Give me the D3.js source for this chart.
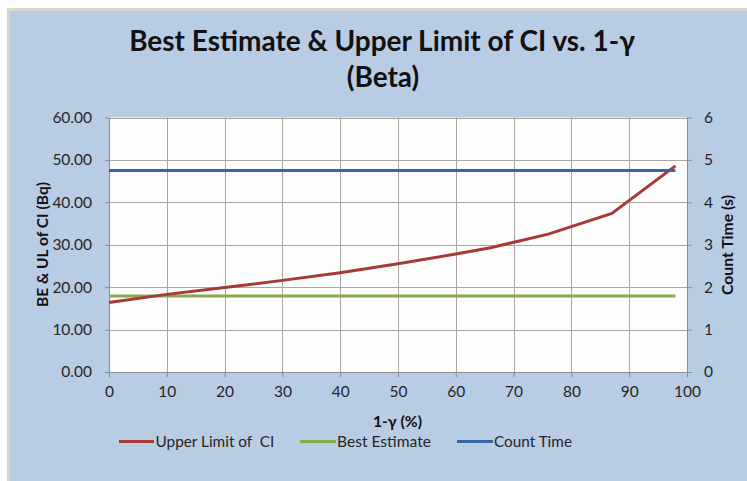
<!DOCTYPE html>
<html><head><meta charset="utf-8">
<script src="https://cdn.jsdelivr.net/npm/d3@7"></script>
<style>body{margin:0;background:#fff}svg{display:block}text{white-space:pre}</style>
</head><body>
<svg id="c" width="747" height="481"></svg>
<script>
const xValues = [0, 10, 20, 30, 40, 50, 60, 66, 76, 87, 98];
const upperLimit = [16.4, 18.3, 19.9, 21.6, 23.4, 25.5, 27.8, 29.3, 32.5, 37.4, 48.6];
const bestEstimate = [17.9, 17.9, 17.9, 17.9, 17.9, 17.9, 17.9, 17.9, 17.9, 17.9, 17.9];
const countTime = [4.75, 4.75, 4.75, 4.75, 4.75, 4.75, 4.75, 4.75, 4.75, 4.75, 4.75];
const xTicks = [0, 10, 20, 30, 40, 50, 60, 70, 80, 90, 100];
const leftTicks = [0, 10, 20, 30, 40, 50, 60];
const rightTicks = [0, 1, 2, 3, 4, 5, 6];
const seriesNames = ["Upper Limit of  CI", "Best Estimate", "Count Time"];
const titleLines = ["Best Estimate & Upper Limit of CI vs. 1-\u03b3", "(Beta)"];

const FONT = "Lato, 'Open Sans', sans-serif";
const colors = ["#a53a36", "#8aa84b", "#3c66a3"];
const svg = d3.select("#c");

// outer frame
svg.append("rect").attr("x", 8.5).attr("y", 9.5).attr("width", 745).attr("height", 480)
  .attr("fill", "#b8cce4").attr("stroke", "#d9d8cc").attr("stroke-width", 3);

const L = 109, R = 687, T = 117.5, B = 372;
const x = d3.scaleLinear().domain([0, 100]).range([L, R]);
const yL = d3.scaleLinear().domain([0, 60]).range([B, T]);
const yR = d3.scaleLinear().domain([0, 6]).range([B, T]);

svg.append("rect").attr("x", L).attr("y", T).attr("width", R - L).attr("height", B - T).attr("fill", "#fdfdfd");

// gridlines
const grid = svg.append("g").attr("stroke", "#aea4a4").attr("stroke-width", 1);
xTicks.forEach(t => grid.append("line").attr("x1", Math.round(x(t)) + 0.5).attr("x2", Math.round(x(t)) + 0.5).attr("y1", T).attr("y2", B));
leftTicks.forEach(t => grid.append("line").attr("x1", L).attr("x2", R).attr("y1", Math.round(yL(t)) + 0.5).attr("y2", Math.round(yL(t)) + 0.5));

function fit(sel, target, base) {
  sel.attr("font-size", base);
  const w = sel.node().getComputedTextLength();
  sel.attr("font-size", base * target / w);
}

// axes
const axStyle = g => {
  g.select(".domain").attr("stroke", "#8c8c8c");
  g.selectAll(".tick line").attr("stroke", "#8c8c8c");
  g.selectAll("text").attr("font-family", FONT).attr("font-size", 15.5).attr("fill", "#262626");
};
svg.append("g").attr("transform", `translate(0,${B})`)
  .call(d3.axisBottom(x).tickValues(xTicks).tickSize(5).tickSizeOuter(0).tickPadding(9))
  .call(axStyle);
svg.append("g").attr("transform", `translate(${L},0)`)
  .call(d3.axisLeft(yL).tickValues(leftTicks).tickFormat(d3.format(".2f")).tickSize(4).tickSizeOuter(0).tickPadding(13))
  .call(axStyle);
svg.append("g").attr("transform", `translate(${R},0)`)
  .call(d3.axisRight(yR).tickValues(rightTicks).tickFormat(d3.format("d")).tickSize(5).tickSizeOuter(0).tickPadding(12))
  .call(axStyle);

// lines
const pts = xValues.map((d, i) => i);
const mk = (yS, arr) => d3.line().x(i => x(xValues[i])).y(i => yS(arr[i]));
svg.append("path").attr("d", mk(yL, bestEstimate)(pts)).attr("fill", "none").attr("stroke", colors[1]).attr("stroke-width", 3);
svg.append("path").attr("d", mk(yL, upperLimit)(pts)).attr("fill", "none").attr("stroke", colors[0]).attr("stroke-width", 3);
svg.append("path").attr("d", mk(yR, countTime)(pts)).attr("fill", "none").attr("stroke", colors[2]).attr("stroke-width", 3);

// title
const t1 = svg.append("text").attr("x", 382).attr("y", 51).attr("text-anchor", "middle")
  .attr("font-family", FONT).attr("font-weight", "bold").attr("fill", "#111").text(titleLines[0]);
fit(t1, 506, 28);
const t2 = svg.append("text").attr("x", 383).attr("y", 87).attr("text-anchor", "middle")
  .attr("font-family", FONT).attr("font-weight", "bold").attr("fill", "#111").attr("font-size", t1.attr("font-size")).text(titleLines[1]);

// axis titles
const xt = svg.append("text").attr("x", 397.5).attr("y", 427).attr("text-anchor", "middle")
  .attr("font-family", FONT).attr("font-weight", "bold").attr("fill", "#111").text("1-\u03b3 (%)");
fit(xt, 49, 15);
const ylt = svg.append("text").attr("transform", "translate(48,244.5) rotate(-90)").attr("text-anchor", "middle")
  .attr("font-family", FONT).attr("font-weight", "bold").attr("fill", "#111").text("BE & UL of CI (Bq)");
fit(ylt, 125, 15);
const yrt = svg.append("text").attr("transform", "translate(733,245) rotate(-90)").attr("text-anchor", "middle")
  .attr("font-family", FONT).attr("font-weight", "bold").attr("fill", "#111").text("Count Time (s)");
fit(yrt, 100, 15);

// legend
const legX = [[119, 154, 155.5, 119], [300, 336, 337, 94], [457, 493, 494, 78]];
seriesNames.forEach((n, i) => {
  svg.append("line").attr("x1", legX[i][0]).attr("x2", legX[i][1]).attr("y1", 441.5).attr("y2", 441.5)
    .attr("stroke", colors[i]).attr("stroke-width", 3);
  const tx = svg.append("text").attr("x", legX[i][2]).attr("y", 447).attr("font-family", FONT)
    .attr("fill", "#262626").attr("xml:space", "preserve").text(n);
  fit(tx, legX[i][3], 15);
});
</script>
</body></html>
